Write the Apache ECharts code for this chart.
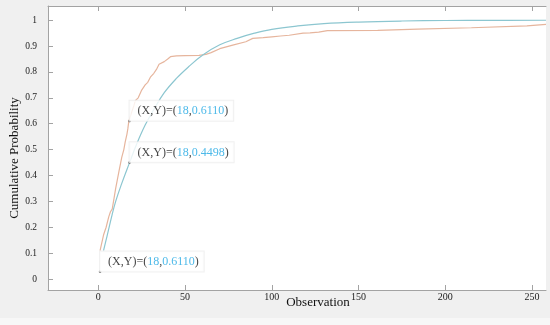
<!DOCTYPE html>
<html>
<head>
<meta charset="utf-8">
<script src="https://cdn.jsdelivr.net/npm/echarts@6/dist/echarts.min.js"></script>
<style>
html,body{margin:0;padding:0;background:#f0f0f0;}
#chart{width:550px;height:325px;}
</style>
</head>
<body>
<div id="chart"></div>
<script>
// ---- data ----
const xTicks = [0, 50, 100, 150, 200, 250];
const yTicks = [0, 0.1, 0.2, 0.3, 0.4, 0.5, 0.6, 0.7, 0.8, 0.9, 1];
const yTickLabels = ['0', '0.1', '0.2', '0.3', '0.4', '0.5', '0.6', '0.7', '0.8', '0.9', '1'];

// empirical CDF (orange)
const empX = [1, 2, 3, 4.5, 6, 7, 8, 9, 10, 12, 13.5, 14.7, 15.5, 16.5, 17, 17.6, 19, 20.5, 21.4, 23, 25, 27, 28.5, 30, 32, 33.5, 35, 36, 38, 40, 41.6, 45, 50, 58, 62, 65, 70, 78, 85, 89, 95, 100, 105, 110, 118, 122, 127, 132, 161, 162, 184, 185, 215, 216, 247, 248, 258];
const empY = [0.11, 0.14, 0.17, 0.20, 0.24, 0.26, 0.27, 0.31, 0.35, 0.42, 0.47, 0.50, 0.53, 0.56, 0.58, 0.611, 0.64, 0.67, 0.69, 0.70, 0.73, 0.75, 0.76, 0.78, 0.795, 0.81, 0.83, 0.835, 0.84, 0.85, 0.859, 0.862, 0.863, 0.864, 0.868, 0.875, 0.89, 0.905, 0.917, 0.93, 0.933, 0.936, 0.939, 0.942, 0.95, 0.951, 0.954, 0.96, 0.961, 0.966, 0.966, 0.971, 0.971, 0.978, 0.978, 0.984, 0.984];

// fitted CDF (blue)
const fitX = [3, 5, 8, 10, 13, 18, 22, 27, 32, 38, 45, 52, 60, 70, 80, 90, 100, 115, 130, 150, 175, 200, 225, 258];
const fitY = [0.11, 0.165, 0.25, 0.30, 0.36, 0.4498, 0.52, 0.595, 0.655, 0.72, 0.775, 0.82, 0.865, 0.905, 0.93, 0.95, 0.965, 0.978, 0.987, 0.993, 0.997, 0.999, 0.9995, 1.0];

// data tips
const tipX = [18, 18, 1];
const tipY = [0.611, 0.4498, 0.028];
const tipLabelX = ['18', '18', '18'];
const tipLabelY = ['0.6110', '0.4498', '0.6110'];

const xName = 'Observation';
const yName = 'Cumulative Probability';

// ---- chart ----
const font = 'Liberation Serif, Times New Roman, serif';
const axisGray = '#a3a3a3';
const pair = (xs, ys) => xs.map((x, i) => [x, ys[i]]);

const chart = echarts.init(document.getElementById('chart'), null, {renderer: 'canvas'});
chart.setOption({
  backgroundColor: '#f0f0f0',
  animation: false,
  grid: {left: 48, right: 4, top: 6, bottom: 35, show: true, backgroundColor: '#ffffff', borderWidth: 0},
  xAxis: [{
    type: 'value', min: -29, max: 258, position: 'bottom',
    splitLine: {show: false},
    axisLine: {show: true, onZero: false, lineStyle: {color: axisGray, width: 1}},
    axisTick: {show: true, inside: true, length: 5, customValues: xTicks, lineStyle: {color: axisGray}},
    axisLabel: {show: true, customValues: xTicks, margin: 2, color: '#222', fontFamily: font, fontSize: 10}
  }, {
    type: 'value', min: -29, max: 258, position: 'top',
    splitLine: {show: false},
    axisLine: {show: true, onZero: false, lineStyle: {color: axisGray, width: 1}},
    axisTick: {show: true, inside: true, length: 5, customValues: xTicks, lineStyle: {color: axisGray}},
    axisLabel: {show: false}
  }],
  yAxis: [{
    type: 'value', min: -0.0425, max: 1.055,
    splitLine: {show: false},
    axisLine: {show: true, onZero: false, lineStyle: {color: axisGray, width: 1}},
    axisTick: {show: true, inside: true, length: 5, customValues: yTicks, lineStyle: {color: axisGray}},
    axisLabel: {
      show: true, customValues: yTicks, margin: 11, color: '#222', fontFamily: font, fontSize: 9.5,
      formatter: v => { const i = yTicks.findIndex(t => Math.abs(t - v) < 1e-9); return i >= 0 ? yTickLabels[i] : ''; }
    }
  }],
  graphic: [
    {type: 'rect', left: 0, top: 318, shape: {width: 550, height: 7}, style: {fill: '#f7f7f7'}, silent: true},
    {type: 'text', x: 15, y: 158, rotation: Math.PI / 2,
      style: {text: yName, font: '13px ' + font, fill: '#111', textAlign: 'center', textVerticalAlign: 'middle'}},
    {type: 'text', x: 318, y: 303,
      style: {text: xName, font: '13px ' + font, fill: '#111', textAlign: 'center', textVerticalAlign: 'middle'}}
  ],
  series: [
    {
      name: 'Empirical', type: 'line', xAxisIndex: 0, data: pair(empX, empY),
      showSymbol: false, z: 2,
      lineStyle: {color: '#e6b59d', width: 1.2}
    },
    {
      name: 'Fitted', type: 'line', xAxisIndex: 0, data: pair(fitX, fitY),
      showSymbol: false, smooth: 0.4, z: 2,
      lineStyle: {color: '#8cc6d0', width: 1.2}
    },
    {
      name: 'Tips', type: 'scatter', xAxisIndex: 0, data: pair(tipX, tipY),
      symbol: 'circle', symbolSize: 2.5, z: 5,
      itemStyle: {color: '#222'},
      label: {
        show: true, position: [1.25, -19],
        backgroundColor: '#ffffff', borderColor: '#ececec', borderWidth: 1,
        padding: [3, 5, 3, 8],
        formatter: p => '{k|(X,Y)=(}{v|' + tipLabelX[p.dataIndex] + '}{k|,}{v|' + tipLabelY[p.dataIndex] + '}{k|)}',
        rich: {
          k: {fontFamily: font, fontSize: 12, color: '#111', lineHeight: 14},
          v: {fontFamily: font, fontSize: 12, color: '#1fa8e4', lineHeight: 14}
        }
      }
    }
  ]
});
</script>
</body>
</html>
